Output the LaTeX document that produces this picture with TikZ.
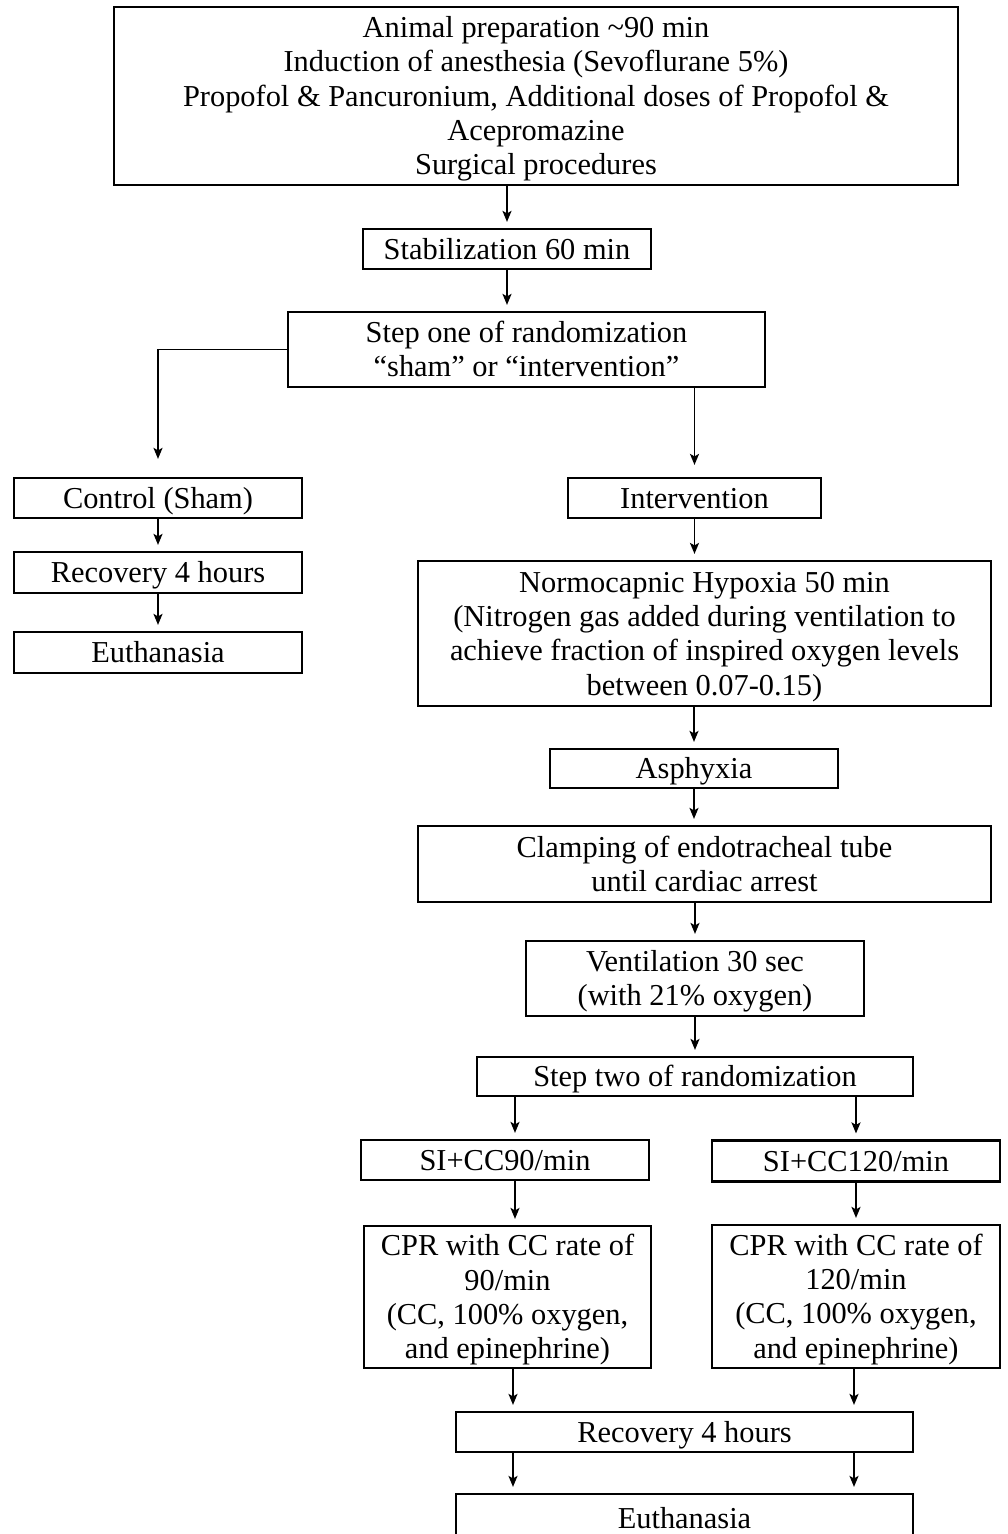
\documentclass[tikz,border=0pt]{standalone}
\usepackage{fontspec}
\setmainfont{Liberation Serif}
\usetikzlibrary{arrows.meta}
\begin{document}
\begin{tikzpicture}[x=1pt,y=-1pt,
  box/.style={draw, line width=2.2pt, inner sep=0pt, align=center,
    font=\fontsize{30.4}{34.3}\selectfont, text height=20.5pt, text depth=0pt},
  two/.style={text height=54.8pt},
  four/.style={text height=123.4pt},
  five/.style={text height=157.7pt},
  arr/.style={line width=1.7pt, -{Stealth[length=11pt,width=9pt,inset=2.5pt]}, shorten >=6pt}]
\useasboundingbox (0,0) rectangle (1008,1534);
\fill[white] (0,0) rectangle (1008,1534);
% nodes
\node[box, five, minimum width=844pt, minimum height=178pt] (prep) at (536,96)
  {Animal preparation \textasciitilde90 min\\Induction of anesthesia (Sevoflurane 5\%)\\Propofol \& Pancuronium, Additional doses of Propofol \&\\Acepromazine\\Surgical procedures};
\node[box, minimum width=288pt, minimum height=40pt] (stab) at (507,249) {Stabilization 60 min};
\node[box, two, minimum width=477pt, minimum height=75pt] (step1) at (526.5,349.5) {Step one of randomization\\“sham” or “intervention”};
\node[box, minimum width=288pt, minimum height=40pt] (control) at (158,498) {Control (Sham)};
\node[box, minimum width=288pt, minimum height=41pt] (rec1) at (158,572.5) {Recovery 4 hours};
\node[box, minimum width=288pt, minimum height=41pt] (euth1) at (158,652.5) {Euthanasia};
\node[box, minimum width=253pt, minimum height=40pt] (interv) at (694.5,498) {Intervention};
\node[box, four, minimum width=573pt, minimum height=145pt] (normo) at (704.5,633.5)
  {Normocapnic Hypoxia 50 min\\(Nitrogen gas added during ventilation to\\achieve fraction of inspired oxygen levels\\between 0.07-0.15)};
\node[box, minimum width=288pt, minimum height=39pt] (asph) at (694,768.5) {Asphyxia};
\node[box, two, minimum width=573pt, minimum height=76pt] (clamp) at (704.5,864) {Clamping of endotracheal tube\\until cardiac arrest};
\node[box, two, minimum width=338pt, minimum height=75pt] (vent) at (695,978.5) {Ventilation 30 sec\\(with 21\% oxygen)};
\node[box, minimum width=436pt, minimum height=39pt] (step2) at (695,1076.5) {Step two of randomization};
\node[box, minimum width=288pt, minimum height=40pt] (si90) at (505,1160) {SI+CC90/min};
\node[box, minimum width=288pt, minimum height=41pt] (si120) at (856,1161) {SI+CC120/min};
\node[box, four, minimum width=287pt, minimum height=142pt] (cpr90) at (507.5,1297)
  {CPR with CC rate of\\90/min\\(CC, 100\% oxygen,\\and epinephrine)};
\node[box, four, minimum width=288pt, minimum height=143pt] (cpr120) at (856,1296.5)
  {CPR with CC rate of\\120/min\\(CC, 100\% oxygen,\\and epinephrine)};
\node[box, minimum width=457pt, minimum height=40pt] (rec2) at (684.5,1432) {Recovery 4 hours};
\node[box, minimum width=457pt, minimum height=48pt] (euth2) at (684.5,1518) {Euthanasia};
% column coordinates
\coordinate (ca) at (515,0);
\coordinate (cc) at (513,0);
\coordinate (cd) at (854,0);
% connectors
\draw[arr] (prep.south -| stab.north) -- (stab.north);
\draw[arr] (stab.south) -- (stab.south |- step1.north);
\draw[arr, shorten >=18pt] (step1.west) -| (control.north);
\draw[arr, shorten >=12pt] (step1.south -| interv.north) -- (interv.north);
\draw[arr] (control.south) -- (rec1.north);
\draw[arr] (rec1.south) -- (euth1.north);
\draw[arr] (interv.south) -- (interv.south |- normo.north);
\draw[arr] (normo.south -| asph.north) -- (asph.north);
\draw[arr] (asph.south) -- (asph.south |- clamp.north);
\draw[arr] (clamp.south -| vent.north) -- (vent.north);
\draw[arr] (vent.south) -- (step2.north);
\draw[arr] (step2.south -| ca) -- (si90.north -| ca);
\draw[arr] (step2.south -| si120.north) -- (si120.north);
\draw[arr] (si90.south -| ca) -- (cpr90.north -| ca);
\draw[arr] (si120.south) -- (cpr120.north);
\draw[arr] (cpr90.south -| cc) -- (rec2.north -| cc);
\draw[arr] (cpr120.south -| cd) -- (rec2.north -| cd);
\draw[arr] (rec2.south -| cc) -- (euth2.north -| cc);
\draw[arr] (rec2.south -| cd) -- (euth2.north -| cd);
\end{tikzpicture}
\end{document}
